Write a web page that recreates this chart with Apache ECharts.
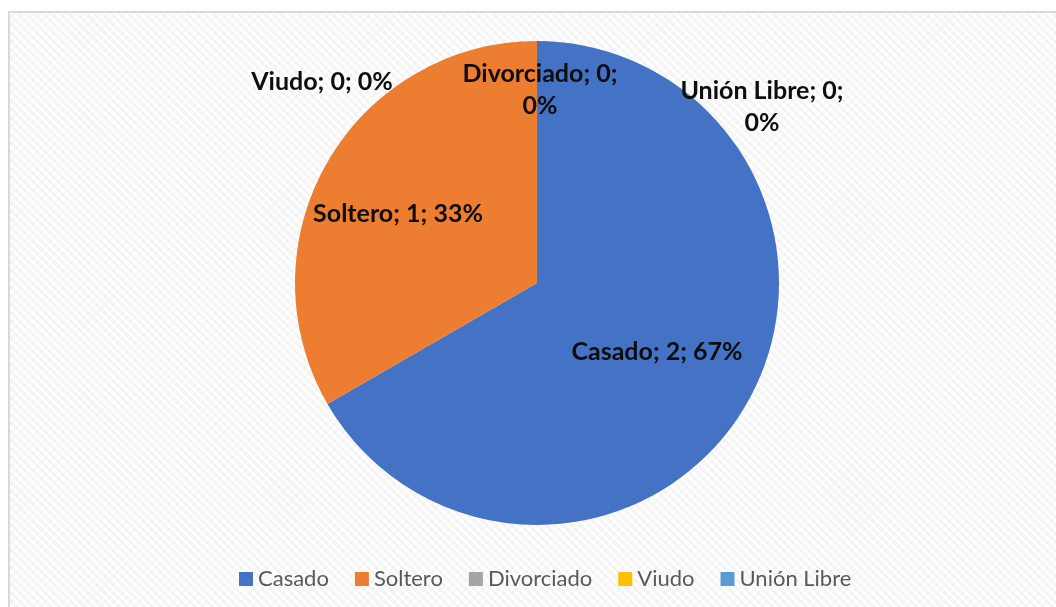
<!DOCTYPE html>
<html>
<head>
<meta charset="utf-8">
<script src="https://cdn.jsdelivr.net/npm/echarts@6/dist/echarts.min.js"></script>
<style>
  html, body { margin: 0; padding: 0; background: #fff; }
  #frame {
    position: absolute; left: 8px; top: 11px; width: 1060px; height: 610px;
    border: 2px solid #d9d9d9; box-sizing: border-box;
    background-color: #fff;
    background-image:
      repeating-linear-gradient(45deg, rgba(0,0,0,0.03) 0 3px, rgba(0,0,0,0) 3px 6px),
      repeating-linear-gradient(-45deg, rgba(0,0,0,0.015) 0 3px, rgba(0,0,0,0) 3px 6px);
  }
  #chart { position: absolute; left: 0; top: 0; width: 1056px; height: 607px; }
</style>
</head>
<body>
<div id="frame"></div>
<div id="chart"></div>
<script>
// estado civil
const categories = ['Casado', 'Soltero', 'Divorciado', 'Viudo', 'Unión Libre']
const counts = [2, 1, 0, 0, 0]
const colors = ['#4472C4', '#ED7D31', '#A5A5A5', '#FFC000', '#5B9BD5']

// where Excel put each data label (centre, page px) and whether it wrapped
const labelSpots = [[657, 352], [398, 214], [540, 90], [322, 82], [762, 107]]
const labelWraps = [false, false, true, false, true]

const chart = echarts.init(document.getElementById('chart'), null, { renderer: 'canvas' })

chart.setOption({
  backgroundColor: 'transparent',
  color: colors,
  legend: {
    left: 234,
    top: 563,
    icon: 'rect',
    itemWidth: 14,
    itemHeight: 14,
    itemGap: 26,
    data: categories,
    textStyle: {
      fontFamily: 'Lato',
      fontSize: 22,
      color: '#595959'
    }
  },
  series: [
    {
      type: 'pie',
      center: [537, 283],
      radius: 242,
      startAngle: 90,
      clockwise: true,
      percentPrecision: 0,
      avoidLabelOverlap: false,
      silent: true,
      animation: false,
      label: {
        show: true,
        position: 'inside',
        fontFamily: 'Lato',
        fontWeight: 'bold',
        fontSize: 25,
        lineHeight: 32,
        color: '#0d0d0d',
        align: 'center',
        verticalAlign: 'middle',
        formatter: p => {
          const sep = labelWraps[p.dataIndex] ? ';\n' : '; '
          return p.name + '; ' + p.value + sep + p.percent + '%'
        }
      },
      labelLine: { show: false },
      labelLayout: p => ({
        x: labelSpots[p.dataIndex][0],
        y: labelSpots[p.dataIndex][1],
        align: 'center',
        verticalAlign: 'middle'
      }),
      data: categories.map((name, i) => ({ name: name, value: counts[i] }))
    }
  ]
})
</script>
</body>
</html>
